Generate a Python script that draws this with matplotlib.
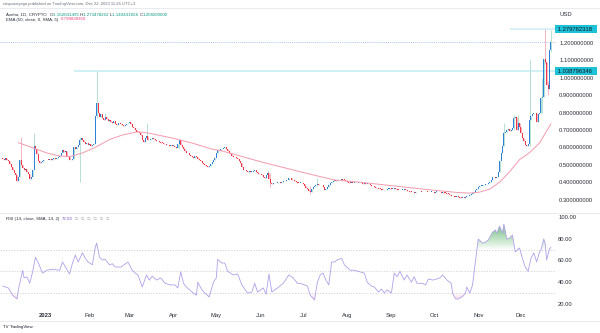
import numpy as np
import matplotlib
matplotlib.use("Agg")
import matplotlib.pyplot as plt
import matplotlib.dates as mdates
from matplotlib.path import Path
from matplotlib.colors import to_rgb
from matplotlib.transforms import blended_transform_factory

plt.rcParams['font.family'] = ['Liberation Sans', 'DejaVu Sans']

# daily closes, 2022-12-02 .. 2023-12-22 (open = previous close)
first_open = 0.540
closes = [
    0.535, 0.530, 0.538, 0.525, 0.520, 0.505, 0.490, 0.470, 0.455, 0.440,
    0.405, 0.430, 0.530, 0.500, 0.480, 0.470, 0.475, 0.460, 0.445, 0.420,
    0.430, 0.470, 0.610, 0.590, 0.560, 0.520, 0.510, 0.515, 0.520, 0.525,
    0.525, 0.530, 0.528, 0.535, 0.530, 0.532, 0.540, 0.535, 0.538, 0.545,
    0.550, 0.570, 0.585, 0.575, 0.580, 0.550, 0.545, 0.530, 0.525, 0.535,
    0.600, 0.590, 0.600, 0.615, 0.640, 0.655, 0.645, 0.630, 0.620, 0.625,
    0.615, 0.620, 0.610, 0.615, 0.620, 0.780, 0.855, 0.800, 0.775, 0.790,
    0.770, 0.760, 0.775, 0.765, 0.750, 0.760, 0.745, 0.740, 0.750, 0.735,
    0.730, 0.738, 0.742, 0.735, 0.728, 0.725, 0.730, 0.735, 0.740, 0.748,
    0.735, 0.718, 0.710, 0.700, 0.690, 0.688, 0.680, 0.670, 0.640, 0.630,
    0.655, 0.668, 0.640, 0.645, 0.650, 0.652, 0.648, 0.640, 0.638, 0.635,
    0.632, 0.628, 0.625, 0.620, 0.618, 0.614, 0.612, 0.610, 0.612, 0.608,
    0.610, 0.605, 0.598, 0.620, 0.640, 0.615, 0.600, 0.590, 0.580, 0.570,
    0.565, 0.556, 0.552, 0.545, 0.540, 0.548, 0.545, 0.535, 0.530, 0.520,
    0.512, 0.505, 0.498, 0.492, 0.488, 0.495, 0.505, 0.516, 0.525, 0.540,
    0.565, 0.585, 0.580, 0.588, 0.592, 0.598, 0.600, 0.590, 0.580, 0.570,
    0.560, 0.548, 0.545, 0.542, 0.540, 0.535, 0.520, 0.510, 0.490, 0.472,
    0.468, 0.462, 0.460, 0.462, 0.458, 0.460, 0.465, 0.470, 0.460, 0.450,
    0.448, 0.445, 0.440, 0.432, 0.425, 0.440, 0.450, 0.420, 0.395, 0.392,
    0.395, 0.393, 0.398, 0.400, 0.402, 0.398, 0.400, 0.405, 0.408, 0.410,
    0.415, 0.422, 0.425, 0.415, 0.410, 0.405, 0.400, 0.398, 0.395, 0.396,
    0.394, 0.390, 0.380, 0.368, 0.360, 0.350, 0.345, 0.360, 0.375, 0.380,
    0.385, 0.388, 0.384, 0.382, 0.385, 0.370, 0.356, 0.362, 0.370, 0.385,
    0.398, 0.402, 0.405, 0.410, 0.408, 0.412, 0.410, 0.414, 0.418, 0.415,
    0.412, 0.405, 0.400, 0.398, 0.395, 0.398, 0.396, 0.397, 0.394, 0.395,
    0.396, 0.393, 0.395, 0.392, 0.394, 0.390, 0.392, 0.388, 0.385, 0.380,
    0.376, 0.372, 0.368, 0.364, 0.362, 0.360, 0.358, 0.355, 0.354, 0.356,
    0.360, 0.362, 0.364, 0.360, 0.363, 0.366, 0.362, 0.358, 0.356, 0.354,
    0.356, 0.358, 0.360, 0.356, 0.350, 0.348, 0.345, 0.343, 0.342, 0.340,
    0.341, 0.343, 0.342, 0.345, 0.343, 0.341, 0.342, 0.344, 0.343, 0.342,
    0.344, 0.345, 0.342, 0.340, 0.343, 0.344, 0.342, 0.341, 0.340, 0.342,
    0.340, 0.338, 0.335, 0.332, 0.326, 0.322, 0.318, 0.316, 0.315, 0.318,
    0.314, 0.312, 0.310, 0.312, 0.310, 0.315, 0.318, 0.322, 0.328, 0.335,
    0.340, 0.345, 0.355, 0.362, 0.370, 0.378, 0.380, 0.382, 0.383, 0.388,
    0.392, 0.396, 0.400, 0.415, 0.430, 0.428, 0.425, 0.430, 0.460, 0.520,
    0.567, 0.610, 0.680, 0.690, 0.700, 0.705, 0.695, 0.700, 0.710, 0.770,
    0.775, 0.700, 0.740, 0.720, 0.680, 0.655, 0.635, 0.612, 0.608, 0.620,
    0.760, 0.780, 0.790, 0.800, 0.795, 0.748, 0.790, 0.800, 0.885, 0.890,
    1.110, 1.090, 0.960, 0.935, 1.162041495, 1.2082,
]

# candles with visible wicks (day offset from 2023-01-01, high, low)
wick_days = [-17, -8, 24, 36, 42, 71, 94, 156, 158, 186, 191, 322, 329, 332, 340, 349, 351, 353, 355]
wick_highs = [0.66, 0.68, 0.66, 1.038796346, 0.80, 0.74, 0.645, 0.47, 0.45, 0.38, 0.425,
              0.74, 0.786, 0.786, 1.10, 1.00, 1.279762318, 0.98, 1.273478262]
wick_lows = [0.52, 0.60, 0.40, 0.77, 0.76, 0.64, 0.598, 0.44, 0.37, 0.335, 0.38,
             0.61, 0.70, 0.70, 0.61, 0.80, 1.08, 0.90, 1.149431666]

# EMA 50 line
ema_days = [-19, -9, 1, 9, 17, 26, 35, 45, 54, 65, 72, 89, 103, 117, 124, 151, 179, 193,
            203, 221, 249, 270, 288, 298, 305, 312, 319, 326, 333, 340, 347, 355]
ema_vals = [0.627, 0.598, 0.568, 0.552, 0.547, 0.568, 0.600, 0.645, 0.671, 0.690, 0.683,
            0.654, 0.625, 0.590, 0.580, 0.518, 0.460, 0.432, 0.413, 0.400, 0.375, 0.356,
            0.342, 0.337, 0.343, 0.360, 0.400, 0.460, 0.530, 0.570, 0.625, 0.735]

# RSI 14
rsi_days = [-30, -26, -23, -20, -19, -16, -15, -13, -11, -9, -7, -5, -2, 1, 5, 10, 12, 14,
            17, 19, 21, 23, 26, 28, 30, 33, 35, 36, 38, 40, 42, 45, 47, 49, 53, 58, 61, 63,
            65, 68, 71, 73, 75, 78, 81, 84, 88, 91, 93, 95, 97, 99, 103, 106, 107, 110, 112,
            115, 118, 120, 121, 124, 126, 128, 132, 135, 138, 142, 145, 147, 149, 153, 155,
            157, 159, 163, 167, 171, 174, 177, 179, 184, 186, 189, 191, 193, 195, 197, 199,
            201, 203, 205, 208, 210, 214, 217, 221, 224, 226, 229, 231, 234, 236, 238, 240,
            243, 245, 247, 249, 252, 254, 257, 259, 261, 265, 267, 269, 272, 275, 277, 279,
            282, 285, 286, 288, 290, 293, 295, 296, 298, 300, 301, 303, 304, 307, 309, 311,
            314, 316, 317, 319, 321, 322, 324, 326, 328, 330, 333, 335, 337, 339, 341, 343,
            345, 347, 348, 350, 351, 352, 354, 355]
rsi_vals = [36.5, 34.7, 28, 24.6, 33, 51, 44, 45, 39, 49.5, 63, 57.7, 48.5, 51, 52, 51, 58.6,
            54, 47.6, 57.7, 65, 58.6, 67, 62, 58.6, 56, 72.4, 76, 63, 60.5, 61, 56, 57, 54,
            54, 58.6, 51, 48.5, 46.7, 35.6, 46.7, 42, 45.7, 42, 44, 39, 37.5, 37.5, 34.7,
            49.5, 39, 35.6, 31, 28, 40, 33, 30, 26.4, 40, 44, 61, 57.7, 57.7, 50, 46.7, 47.6,
            37.5, 30, 31, 39, 31, 34.7, 29, 47.6, 31, 34.7, 39, 46.7, 44, 39, 39, 36.5, 28,
            23.7, 40, 46.7, 48.5, 42, 37.5, 58.6, 58.6, 60.5, 62, 56, 51, 51, 49.5, 48.5, 40,
            36.5, 35.6, 31, 33.8, 30, 33, 30, 48.5, 45, 50, 42, 46.7, 40, 45, 39, 39, 37.5,
            43, 42, 43, 44, 46.7, 42, 39, 30, 24.6, 24.6, 27, 30, 35.6, 30, 37.5, 48.5, 69.6,
            79.8, 76, 77, 78.8, 86, 88, 85, 91.7, 85, 93.5, 79.8, 80.7, 83.4, 67.8, 71.5, 62,
            54, 50, 62, 67, 58.6, 67.8, 69.6, 79.8, 76, 60.5, 70.5, 72.03]

month_ticks = ['2023-01-01', '2023-02-01', '2023-03-01', '2023-04-01', '2023-05-01', '2023-06-01',
               '2023-07-01', '2023-08-01', '2023-09-01', '2023-10-01', '2023-11-01', '2023-12-01']
month_labels = ['2023', 'Feb', 'Mar', 'Apr', 'May', 'Jun', 'Jul', 'Aug', 'Sep', 'Oct', 'Nov', 'Dec']
price_ticks = [0.3, 0.4, 0.5, 0.6, 0.7, 0.8, 0.9, 1.0, 1.1, 1.2]
rsi_ticks = [20, 40, 60, 80, 100]

UP, DOWN = '#2C82D8', '#F23645'
UP_WICK, DOWN_WICK = '#B4E1D3', '#F7B3C1'
TXT = '#2A2E39'
W, H = 600, 333

base = mdates.date2num(np.datetime64('2023-01-01'))
closes = np.array(closes)
opens = np.r_[first_open, closes[:-1]]
days = np.arange(-30, -30 + len(closes))
x = base + days
highs = np.maximum(opens, closes)
lows = np.minimum(opens, closes)
for d, hi, lo in zip(wick_days, wick_highs, wick_lows):
    i = d + 30
    highs[i] = max(highs[i], hi)
    lows[i] = min(lows[i], lo)

fig = plt.figure(figsize=(W / 100, H / 100), dpi=100)


def frac_box(left, top, right, bottom):
    return [left / W, 1 - bottom / H, (right - left) / W, (bottom - top) / H]


ax = fig.add_axes(frac_box(0, 8, 556, 207))
rx = fig.add_axes(frac_box(0, 213, 556, 308), sharex=ax)

xmin, xmax = base - 31.9, base + 358.6

# candles
up = closes >= opens
for mask, body, wick in ((up, UP, UP_WICK), (~up, DOWN, DOWN_WICK)):
    ax.vlines(x[mask], lows[mask], highs[mask], color=wick, lw=0.7, zorder=2)
    bot = np.minimum(opens, closes)[mask]
    hgt = np.maximum(np.abs(closes - opens)[mask], 0.004)
    ax.bar(x[mask], hgt, bottom=bot, width=0.7, color=body, linewidth=0, zorder=3)

ax.plot(base + np.array(ema_days), ema_vals, color='#F49AAE', lw=0.7, zorder=4)

# horizontal levels
ax.hlines(1.038796346, base + 20, xmax, color='#CDEFF5', lw=1.3, zorder=1)
ax.hlines(1.279762318, base + 326, xmax, color='#CDEFF5', lw=1.1, zorder=1)
ax.axhline(1.2082, color='#8FB3EC', lw=0.5, ls=(0, (1.5, 1.5)), zorder=1)

ax.set_xlim(xmin, xmax)
ax.set_ylim(0.2575, 1.401)
ax.yaxis.tick_right()
ax.set_yticks(price_ticks)
ax.set_yticklabels([f'{v:.9f}' for v in price_ticks])
ax.tick_params(axis='y', length=0, pad=2.2, labelsize=4.2, labelcolor=TXT)
ax.tick_params(axis='x', length=0, labelbottom=False)
for s in ax.spines.values():
    s.set_visible(False)

# price labels on the scale
tr = blended_transform_factory(ax.transAxes, ax.transData)
for v in (1.279762318, 1.038796346):
    ax.text(1.0, v, f' {v:.9f}  ', transform=tr, ha='left', va='center', fontsize=4.2,
            color='#131722', clip_on=False, zorder=10,
            bbox=dict(boxstyle='square,pad=0.25', facecolor='#1EC2D8', edgecolor='none'))

# RSI pane
rx_x = base + np.array(rsi_days, dtype=float)
rsi = np.array(rsi_vals)


def gradient_fill(ax_, xs, ys, level, edge, where, color, alpha):
    coll = ax_.fill_between(xs, level, ys, where=where, interpolate=True,
                            facecolor='none', edgecolor='none')
    paths = coll.get_paths()
    if not paths:
        return
    clip = Path.make_compound_path(*paths)
    rgba = np.zeros((100, 1, 4))
    rgba[..., :3] = to_rgb(color)
    rgba[:, 0, 3] = np.linspace(0, alpha, 100)
    im = ax_.imshow(rgba, extent=[xs.min(), xs.max(), level, edge], origin='lower',
                    aspect='auto', interpolation='bilinear', zorder=1)
    im.set_clip_path(clip, transform=ax_.transData)


gradient_fill(rx, rx_x, rsi, 70, 96, rsi > 70, '#3FA64F', 0.85)
gradient_fill(rx, rx_x, rsi, 30, 20, rsi < 30, '#F06292', 0.45)

for lvl in (70, 50, 30):
    rx.axhline(lvl, color='#C8CBD2', lw=0.5, ls=(0, (2, 2)), zorder=0)
rx.plot(rx_x, rsi, color='#B1A0EA', lw=0.6, zorder=3)

rx.set_xlim(xmin, xmax)
rx.set_ylim(16.3, 103.7)
rx.yaxis.tick_right()
rx.set_yticks(rsi_ticks)
rx.set_yticklabels([f'{v:.2f}' for v in rsi_ticks])
rx.tick_params(axis='y', length=0, pad=1.5, labelsize=4.2, labelcolor=TXT)
month_x = [mdates.date2num(np.datetime64(m)) for m in month_ticks]
rx.set_xticks(month_x)
rx.set_xticklabels(month_labels)
rx.tick_params(axis='x', length=0, pad=3.4, labelsize=4.2, labelcolor=TXT)
rx.get_xticklabels()[0].set_fontweight('bold')
for s in rx.spines.values():
    s.set_visible(False)

# pane borders
for y in (8, 213, 321):
    fig.add_artist(plt.Line2D([0, 1], [1 - y / H] * 2, color='#E6E8EE', lw=0.6))

fig.text(559 / W, 1 - 14 / H, 'USD', fontsize=4.2, color=TXT, va='center')

renderer = fig.canvas.get_renderer()


def text_runs(x_px, y_px, runs, size):
    for s, color in runs:
        t = fig.text(x_px / W, 1 - y_px / H, s, color=color, fontsize=size, va='center', ha='left')
        x_px += t.get_window_extent(renderer).width


GREEN = '#089981'
text_runs(3, 4, [('crispusnyaga published on TradingView.com, Dec 22, 2023 11:26 UTC+3', '#6A6D78')], 3.0)
text_runs(6, 14.7, [('Axelar, 1D, CRYPTO  ', TXT), ('O', TXT), ('1.162041495 ', GREEN),
                    ('H', TXT), ('1.273478262 ', GREEN), ('L', TXT), ('1.149431666 ', GREEN),
                    ('C', TXT), ('1.208200000', GREEN)], 3.2)
text_runs(6, 19.5, [('EMA (50, close, 0, SMA, 5)  ', TXT), ('0.798828360', '#F0457A')], 3.2)
text_runs(6, 219, [('RSI (14, close, SMA, 14, 2)  ', TXT), ('72.03', '#7E57C2'),
                   ('  \u2205  \u2205  \u2205  \u2205  \u2205  \u2205', '#9598A1')], 3.2)
text_runs(3, 327, [('TV ', '#131722'), ('TradingView', '#131722')], 3.2)

fig.savefig('out.png', dpi=100, facecolor='white')
